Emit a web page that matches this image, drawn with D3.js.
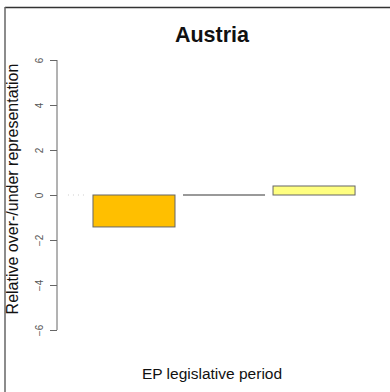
<!DOCTYPE html>
<html>
<head>
<meta charset="utf-8">
<script src="https://cdn.jsdelivr.net/npm/d3@7"></script>
<style>
  html, body { margin: 0; padding: 0; background: #fff; }
  svg { display: block; }
  text { font-family: "Liberation Sans", Arial, Helvetica, sans-serif; }
</style>
</head>
<body>
<script>
// Relative over-/under representation per EP legislative period
const periods = ["1999-2004", "2004-2009", "2009-2014", "2014-2019"];
const values = [0, -1.42, 0, 0.4];
const barColors = ["#cccccc", "#FFBF00", "#999999", "#FFFF80"];
const yTicks = [-6, -4, -2, 0, 2, 4, 6];
const titleText = "Austria";
const xLabel = "EP legislative period";
const yLabel = "Relative over-/under representation";

const W = 390, H = 392;
const svg = d3.select("body").append("svg").attr("width", W).attr("height", H);

// frame lines (top and left)
svg.append("line").attr("x1", 5).attr("x2", 390).attr("y1", 7.5).attr("y2", 7.5)
  .attr("stroke", "#333").attr("stroke-width", 1.5);
svg.append("line").attr("x1", 5).attr("x2", 5).attr("y1", 7).attr("y2", H)
  .attr("stroke", "#666").attr("stroke-width", 1.5);

const plotLeft = 57;
const y = d3.scaleLinear().domain([-6, 6]).range([330, 60]);
const x = d3.scaleBand().domain(periods).range([-1, 359])
  .paddingInner(0.089).paddingOuter(0.044);

svg.append("defs").append("clipPath").attr("id", "plotclip")
  .append("rect").attr("x", plotLeft + 9).attr("y", 0).attr("width", W).attr("height", H);

const g = svg.append("g").attr("clip-path", "url(#plotclip)");
const data = periods.map((p, i) => ({ p, v: values[i], c: barColors[i], i }));

// non-zero bars
g.selectAll("rect.bar").data(data.filter(d => d.v !== 0)).join("rect")
  .attr("class", "bar")
  .attr("x", d => x(d.p))
  .attr("width", x.bandwidth())
  .attr("y", d => y(Math.max(0, d.v)))
  .attr("height", d => Math.abs(y(d.v) - y(0)))
  .attr("fill", d => d.c)
  .attr("stroke", "#666")
  .attr("stroke-width", 1);

// zero-valued bars collapse to a line at the baseline
g.selectAll("line.zero").data(data.filter(d => d.v === 0)).join("line")
  .attr("class", "zero")
  .attr("x1", d => x(d.p)).attr("x2", d => x(d.p) + x.bandwidth())
  .attr("y1", y(0)).attr("y2", y(0))
  .attr("stroke", d => d.c)
  .attr("stroke-width", d => d.i === 0 ? 1 : 1.8)
  .attr("stroke-dasharray", d => d.i === 0 ? "1,4" : null);

// y axis
const axis = d3.axisLeft(y).tickValues(yTicks).tickSize(7).tickPadding(8);
const ag = svg.append("g").attr("transform", `translate(${plotLeft},0)`).call(axis);
ag.select(".domain").attr("stroke", "#666").attr("d", `M0,${y(-6)}V${y(6)}`);
ag.selectAll(".tick line").attr("stroke", "#666");
ag.selectAll(".tick text")
  .attr("fill", "#555")
  .attr("font-size", 10)
  .attr("text-anchor", "middle")
  .attr("x", null).attr("dy", null)
  .attr("transform", "translate(-14,0) rotate(-90)")
  .attr("y", 0);

// title
svg.append("text").attr("x", 212).attr("y", 42).attr("text-anchor", "middle")
  .attr("font-size", 21.5).attr("font-weight", "bold").attr("fill", "#111")
  .text(titleText);

// axis titles
svg.append("text").attr("x", 212).attr("y", 379).attr("text-anchor", "middle")
  .attr("font-size", 15.5).attr("fill", "#111").text(xLabel);

svg.append("text").attr("transform", "translate(18,189) rotate(-90)")
  .attr("text-anchor", "middle").attr("font-size", 16).attr("fill", "#111")
  .text(yLabel);
</script>
</body>
</html>
